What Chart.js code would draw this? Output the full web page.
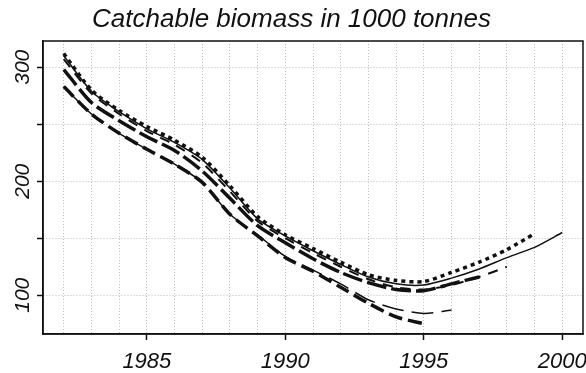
<!DOCTYPE html>
<html>
<head>
<meta charset="utf-8">
<script src="https://cdn.jsdelivr.net/npm/chart.js@4.4.0/dist/chart.umd.min.js"></script>
<style>
  body { margin: 0; background: #fff; }
  canvas { display: block; }
</style>
</head>
<body>
<canvas id="chart" width="586" height="373"></canvas>
<script>
// Retrospective runs, catchable biomass (1000 t), each series starts 1982
const years = [1982, 1983, 1984, 1985, 1986, 1987, 1988, 1989, 1990, 1991,
  1992, 1993, 1994, 1995, 1996, 1997, 1998, 1999, 2000];
const run1995 = [283, 259, 242, 228, 215, 199, 171, 152, 133, 121, 107, 93, 81, 75];
const run1996 = [283, 259, 242, 228, 215, 199, 171, 153, 134, 122, 110, 96, 88, 84, 87];
const run1997 = [298, 269, 253, 239, 227, 209, 185, 161, 146, 132, 120, 111, 105, 104, 110, 116];
const run1998 = [307, 277, 259, 244, 232, 216, 191, 165, 150, 137, 125, 114, 107, 105, 109, 116, 125];
const run1999 = [312, 280, 262, 248, 236, 221, 196, 169, 153, 141, 129, 118, 113, 112, 120, 129, 140, 154];
const run2000 = [310, 279, 261, 246, 234, 219, 194, 167, 152, 139, 127, 116, 110, 109, 115, 123, 133, 142, 155];

const FONT = 'Liberation Sans, Arial, sans-serif';

function toPoints(values) {
  return values.map((v, i) => ({ x: years[i], y: v }));
}

function series(label, values, width, dash) {
  return {
    label: label,
    data: toPoints(values),
    borderColor: '#111',
    borderWidth: width,
    borderDash: dash,
    pointRadius: 0,
    fill: false,
    tension: 0.25
  };
}

// frame round the plot area (top and right sides too)
const frame = {
  id: 'frame',
  afterDraw(chart) {
    const a = chart.chartArea;
    const ctx = chart.ctx;
    ctx.save();
    ctx.strokeStyle = '#111';
    ctx.lineWidth = 1.5;
    ctx.strokeRect(a.left, a.top, a.right - a.left, a.bottom - a.top);
    ctx.restore();
  }
};

new Chart(document.getElementById('chart'), {
  type: 'line',
  data: {
    datasets: [
      series('1995', run1995, 3.5, [14, 6]),
      series('1996', run1996, 1.5, [22, 8]),
      series('1997', run1997, 3.5, [20, 5]),
      series('1998', run1998, 2, [10, 8]),
      series('1999', run1999, 3.5, [4, 4]),
      series('2000', run2000, 1.5, [])
    ]
  },
  options: {
    responsive: false,
    devicePixelRatio: 1,
    animation: false,
    layout: { padding: { right: 3 } },
    plugins: {
      legend: { display: false },
      tooltip: { enabled: false },
      title: {
        display: true,
        text: 'Catchable biomass in 1000 tonnes',
        color: '#111',
        font: { family: FONT, size: 26, style: 'italic', weight: 'normal', lineHeight: 1 },
        padding: { top: 7, bottom: 8 }
      }
    },
    scales: {
      x: {
        type: 'linear',
        min: 1981.25,
        max: 2000.75,
        afterFit: s => { s.height = 39; s.paddingLeft = 0; s.paddingRight = 0; },
        border: { display: true, color: '#111', width: 1.5, dash: [1, 2] },
        grid: {
          color: '#bdbdbd',
          lineWidth: 1,
          tickLength: 6,
          tickWidth: 1.5,
          tickBorderDash: [],
          tickColor: c => (c.tick && c.tick.value % 5 === 0) ? '#111' : 'rgba(0,0,0,0)'
        },
        ticks: {
          stepSize: 1,
          includeBounds: false,
          autoSkip: false,
          maxRotation: 0,
          padding: 9,
          color: '#111',
          font: { family: FONT, size: 22, style: 'italic' },
          callback: v => v % 5 === 0 ? String(v) : ''
        }
      },
      y: {
        min: 66,
        max: 323,
        afterFit: s => { s.width = 43; s.paddingTop = 0; s.paddingBottom = 0; },
        border: { display: true, color: '#111', width: 1.5, dash: [1, 2] },
        grid: {
          color: '#bdbdbd',
          lineWidth: 1,
          tickLength: 6,
          tickWidth: 1.5,
          tickBorderDash: [],
          tickColor: '#111'
        },
        ticks: {
          stepSize: 50,
          includeBounds: false,
          minRotation: 90,
          maxRotation: 90,
          crossAlign: 'center',
          padding: -4,
          color: '#111',
          font: { family: FONT, size: 21, style: 'italic' },
          callback: v => v % 100 === 0 ? String(v) : ''
        }
      }
    }
  },
  plugins: [frame]
});
</script>
</body>
</html>
